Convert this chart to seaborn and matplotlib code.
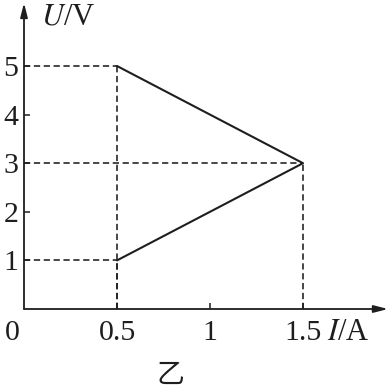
import matplotlib
matplotlib.use("Agg")
import matplotlib.pyplot as plt
import seaborn as sns
import pandas as pd

# Data
current = [0.5, 1.5, 0.5]      # I / A
voltage = [5, 3, 1]            # U / V
x_ticks = [0.5, 1, 1.5]
x_tick_labels = ["0.5", "1", "1.5"]
y_ticks = [1, 2, 3, 4, 5]
y_tick_labels = ["1", "2", "3", "4", "5"]
guide_points = [(0.5, 5), (1.5, 3), (0.5, 1)]

sns.set_theme(style="white")
plt.rcParams["font.family"] = ["Liberation Serif", "Noto Sans CJK SC", "DejaVu Sans"]
plt.rcParams["lines.scale_dashes"] = False

W = 390
fig = plt.figure(figsize=(3.9, 3.9), dpi=100)
ox, oy = 24, 309          # origin in pixels
px_x, px_y = 186.0, 48.6  # pixels per unit
ax = fig.add_axes([ox / W, (W - oy) / W, (W - ox) / W, oy / W])
ax.set_xlim(0, (W - ox) / px_x)
ax.set_ylim(0, oy / px_y)

ink = "#1e1e1e"
df = pd.DataFrame({"I": current, "U": voltage})
sns.lineplot(data=df, x="I", y="U", sort=False, estimator=None, color=ink,
             linewidth=1.5, ax=ax)

dash = (0, (4.5, 2.6))
for gx, gy in guide_points:
    ax.plot([0, gx], [gy, gy], color=ink, lw=1.15, linestyle=dash)
    ax.plot([gx, gx], [0, gy], color=ink, lw=1.15, linestyle=dash)

for s in ax.spines.values():
    s.set_visible(False)

# axes with arrows
arrow = dict(arrowstyle="-|>,head_length=0.7,head_width=0.18", color=ink,
             lw=1.3, shrinkA=0, shrinkB=0)
ax.annotate("", xy=(0, (oy - 3) / px_y), xytext=(0, 0), arrowprops=arrow,
            annotation_clip=False)
ax.annotate("", xy=((388 - ox) / px_x, 0), xytext=(0, 0), arrowprops=arrow,
            annotation_clip=False)

ax.set_xticks(x_ticks)
ax.set_xticklabels(x_tick_labels)
ax.set_yticks(y_ticks)
ax.set_yticklabels(y_tick_labels)
ax.tick_params(axis="both", direction="in", length=4, width=1.1, color=ink,
               labelsize=21.5, labelcolor=ink)
ax.tick_params(axis="x", pad=8, bottom=True)
ax.tick_params(axis="y", pad=4, left=True)
ax.set_xlabel("")
ax.set_ylabel("")

def ptext(x, y, s, **kw):
    fig.text(x / W, 1 - y / W, s, color=ink, **kw)

ptext(12, 333, "0", fontsize=21.5, ha="center", va="center")
ptext(41, 17, "$\\mathit{U}$/V", fontsize=22, ha="left", va="center",
      math_fontfamily="stix")
ptext(327, 333, "$\\mathit{I}$/A", fontsize=22, ha="left", va="center",
      math_fontfamily="stix")
ptext(170, 375, "乙", fontsize=20, ha="center", va="center",
      family=["Noto Sans CJK SC", "DejaVu Sans"])

fig.savefig("out.png", dpi=100)
